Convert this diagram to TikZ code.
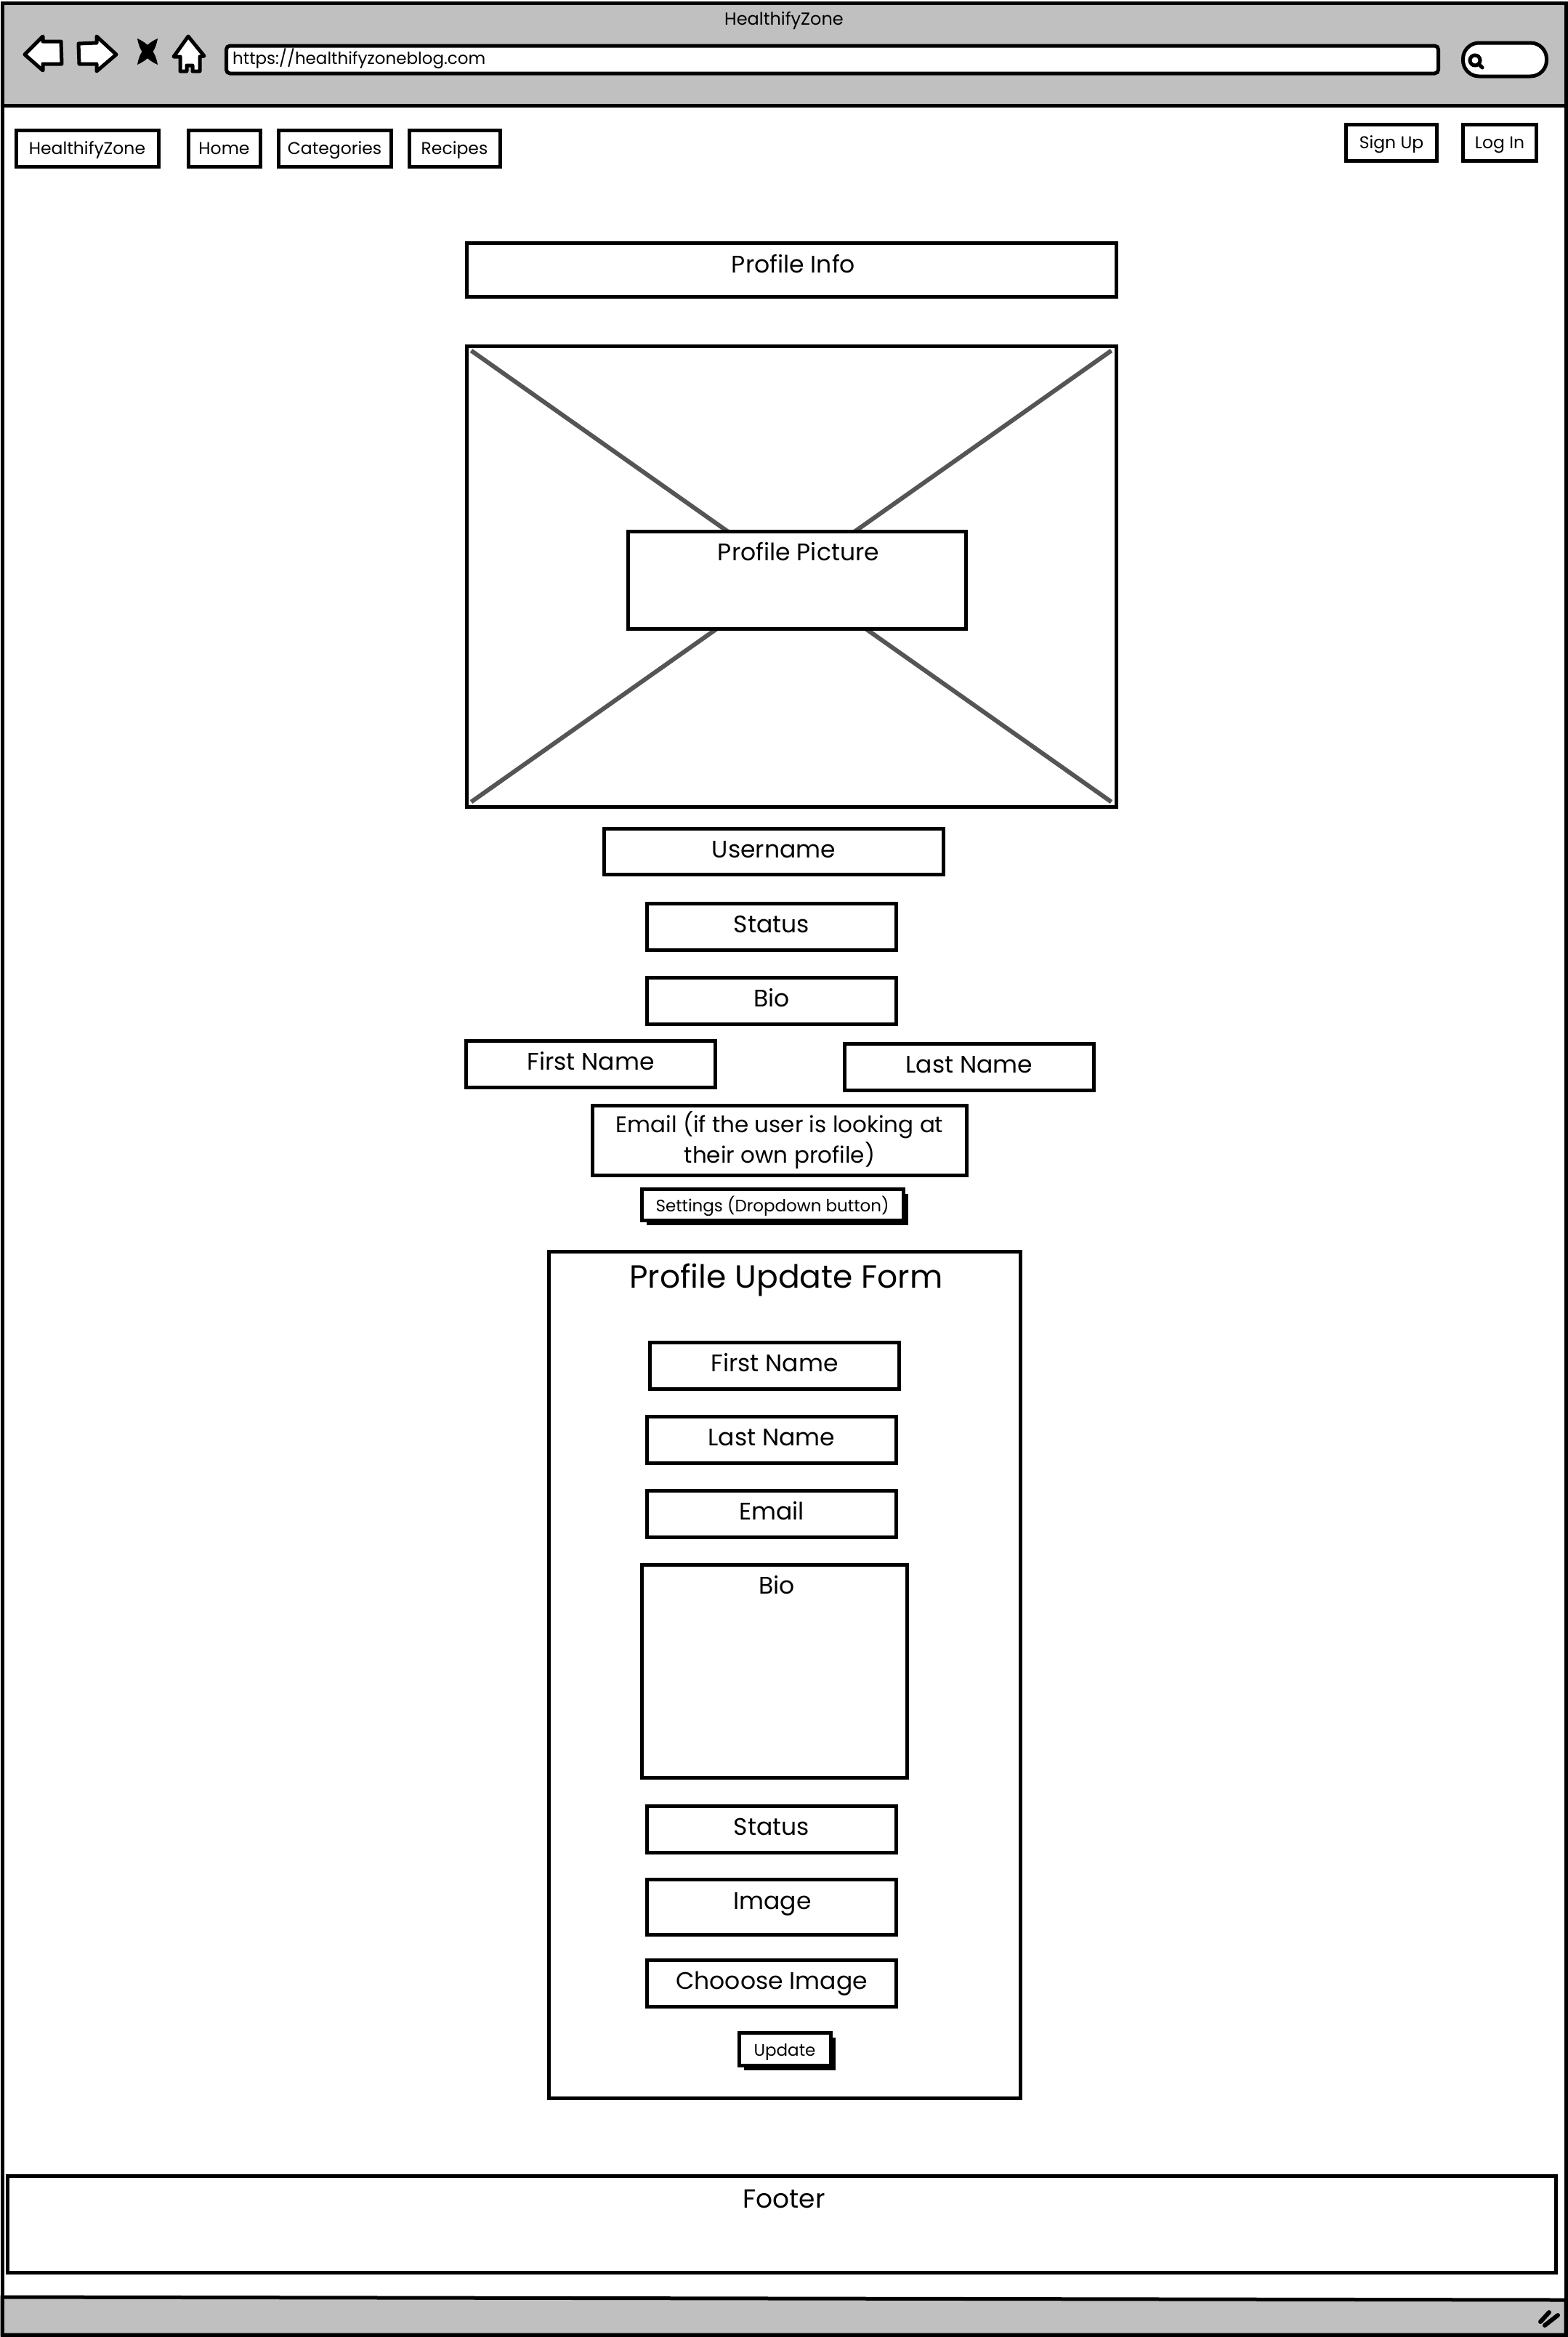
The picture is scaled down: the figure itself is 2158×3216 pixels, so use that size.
\documentclass[tikz,border=0pt]{standalone}
\usepackage{fontspec}
\setmainfont{Poppins}
\usetikzlibrary{positioning, shadows}
\definecolor{barfill}{HTML}{C0C0C0}
\definecolor{crossline}{HTML}{555555}

\begin{document}
\begin{tikzpicture}[x=1pt, y=-1pt, line join=miter,
    main/.style = {draw, fill=white, line width=5pt, inner sep=0pt, align=center, font=\fontsize{33}{42}\selectfont},
    nav/.style = {main, minimum height=50pt, text height=19pt, text depth=3pt, font=\fontsize{23.5}{30}\selectfont},
    field/.style = {main, minimum width=343pt, minimum height=64pt, text height=24pt, text depth=8pt},
    btn/.style = {main, text height=22pt, text depth=3pt, font=\fontsize{23}{30}\selectfont, drop shadow={shadow xshift=7pt, shadow yshift=-6pt, fill=black, opacity=1}},
    caption/.style = {inner sep=0pt, font=\fontsize{33}{42}\selectfont},
    icon/.style = {draw, fill=white, line width=5pt, line join=round},
    frame/.style = {draw, line width=5pt}]
    \useasboundingbox (0,0) rectangle (2158,3216);
    \fill[white] (0,0) rectangle (2158,3216);

    % Window
    \fill[barfill] (3,4) rectangle (2155,145);
    \draw[frame, fill=barfill] (3,3161) -- (2155,3165) -- (2155,3213) -- (3,3213) -- cycle;
    \draw[frame] (3,145) -- (2155,145);
    \draw[frame] (3,4) rectangle (2155,3213);
    \node[caption, font=\fontsize{24}{30}\selectfont] (title) at (1079,28) {HealthifyZone};

    % Toolbar
    \draw[icon] (34,75) -- (59,50) -- (59,57) -- (84,57) -- (85,88) -- (59,88) -- (59,97) -- cycle;
    \draw[icon] (160,75) -- (133,50) -- (133,59) -- (108,60) -- (109,88) -- (133,88) -- (133,98) -- cycle;
    \fill (189,53) to[bend left=28] (217,89) to[bend left=28] (189,53);
    \fill (217,53) to[bend left=28] (189,89) to[bend left=28] (217,53);
    \draw[icon] (259,50) -- (239,78) -- (248,78) -- (248,98) -- (257,98) -- (257,90) -- (265,90) -- (265,98) -- (275,98) -- (275,78) -- (281,77) -- cycle;
    \node[main, minimum width=1668pt, minimum height=38pt, rounded corners=5pt, anchor=west] (address) at (309,82) {};
    \node[caption, anchor=west, font=\fontsize{23}{30}\selectfont] (url) at (320,81) {https://healthifyzoneblog.com};
    \node[main, minimum width=115pt, minimum height=46pt, rounded corners=22pt] (search) at (2071,82) {};
    \draw[line width=5pt] (2030,83) circle (7pt);
    \draw[line width=5pt, line cap=round] (2035,88) -- (2040,93);

    % Nav
    \node[nav, minimum width=196pt] (brand) at (120,204) {HealthifyZone};
    \node[nav, minimum width=99pt] (home) [right=36pt of brand] {Home};
    \node[nav, minimum width=155pt] (categories) [right=20pt of home] {Categories};
    \node[nav, minimum width=125pt] (recipes) [right=20pt of categories] {Recipes};
    \node[nav, minimum width=125pt] (signup) at (1915,196) {Sign Up};
    \node[nav, minimum width=101pt] (login) [right=31pt of signup] {Log In};

    % Profile
    \node[main, minimum width=894pt, minimum height=74pt] (info) at (1089,371) {};
    \node[caption] (infotext) at (1092,363) {Profile Info};
    \node[main, minimum width=894pt, minimum height=634pt] (picture) [below=63pt of info] {};
    \draw[crossline, line width=6pt] ([shift={(9,9)}]picture.north west) -- ([shift={(-9,-9)}]picture.south east);
    \draw[crossline, line width=6pt] ([shift={(-9,9)}]picture.north east) -- ([shift={(9,-9)}]picture.south west);
    \node[main, minimum width=465pt, minimum height=134pt] (picturebox) at (1097,798) {};
    \node[caption] (picturetext) at (1099,759) {Profile Picture};
    \node[field, minimum width=467pt, minimum height=63pt] (username) at (1065,1172) {Username};
    \node[field] (status) at (1062,1275) {Status};
    \node[field] (bio) [below=33pt of status] {Bio};
    \node[field] (firstname) at (813,1464) {First Name};
    \node[field] (lastname) at (1334,1468) {Last Name};
    \node[main, minimum width=515pt, minimum height=96pt, font=\fontsize{31}{42}\selectfont] (email) at (1073,1569) {Email (if the user is looking at\\their own profile)};
    \node[btn, minimum width=360pt, minimum height=43pt] (settings) at (1063,1658) {Settings (Dropdown button)};

    % Form
    \node[main, minimum width=649pt, minimum height=1165pt] (form) at (1080,2305) {};
    \node[caption, font=\fontsize{44}{54}\selectfont] (formtitle) at (1082,1761) {Profile Update Form};
    \node[field] (formfirst) at (1066,1879) {First Name};
    \node[field] (formlast) at (1062,1981) {Last Name};
    \node[field] (formemail) [below=33pt of formlast] {Email};
    \node[main, minimum width=365pt, minimum height=293pt] (formbio) at (1066,2300) {};
    \node[caption] (formbiotext) at (1069,2181) {Bio};
    \node[field] (formstatus) at (1062,2517) {Status};
    \node[main, minimum width=343pt, minimum height=76pt] (formimage) [below=32pt of formstatus] {};
    \node[caption] (formimagetext) at (1063,2620) {Image};
    \node[field] (choose) at (1062,2729) {Chooose Image};
    \node[btn, minimum width=126pt, minimum height=45pt] (update) at (1080,2820) {Update};

    % Footer
    \node[main, minimum width=2131pt, minimum height=133pt] (footer) at (1076,3061) {};
    \node[caption, font=\fontsize{36}{42}\selectfont] (footertext) at (1079,3026) {Footer};

    % Resize grip
    \draw[line width=6pt, line cap=round] (2120,3195) -- (2132,3182);
    \draw[line width=6pt, line cap=round] (2126,3200) -- (2144,3186);
\end{tikzpicture}
\end{document}
